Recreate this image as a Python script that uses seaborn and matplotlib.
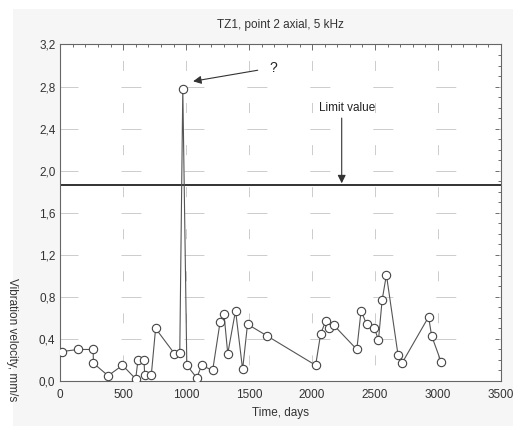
import numpy as np
import pandas as pd
import matplotlib
matplotlib.use("Agg")
import matplotlib.pyplot as plt
import seaborn as sns
from matplotlib.patches import Rectangle
from matplotlib.ticker import MultipleLocator, FuncFormatter

# measured points (days, mm/s)
days = [11, 142, 261, 263, 380, 494, 599, 617, 665, 670, 723, 757, 907, 949,
        973, 1005, 1084, 1123, 1210, 1269, 1300, 1330, 1392, 1448, 1487,
        1641, 2028, 2068, 2108, 2134, 2173, 2355, 2389, 2432, 2495, 2527,
        2556, 2590, 2682, 2714, 2925, 2949, 3025]
velocity = [0.28, 0.30, 0.30, 0.17, 0.05, 0.15, 0.02, 0.20, 0.20, 0.06, 0.06, 0.50, 0.26, 0.27,
            2.78, 0.15, 0.03, 0.15, 0.10, 0.56, 0.64, 0.26, 0.67, 0.11, 0.54,
            0.43, 0.15, 0.45, 0.57, 0.50, 0.53, 0.30, 0.67, 0.54, 0.50, 0.39,
            0.77, 1.01, 0.25, 0.17, 0.61, 0.43, 0.18]
limit_value = 1.86
x_grid = [500, 1000, 1500, 2000, 2500, 3000]
y_grid = [0.4, 0.8, 1.2, 1.6, 2.0, 2.4, 2.8]

df = pd.DataFrame({"Time": days, "Velocity": velocity})

sns.set_style("ticks")
plt.rcParams["font.family"] = ["Liberation Sans", "DejaVu Sans"]
plt.rcParams["lines.scale_dashes"] = False

fig = plt.figure(figsize=(5.13, 4.26), dpi=100)
fig.patch.set_facecolor("white")
# light grey panel behind the chart
fig.patches.append(Rectangle((13 / 513, 0), 1, 1 - 9 / 426, transform=fig.transFigure,
                             facecolor="#f6f6f6", edgecolor="none", zorder=-10))

ax = fig.add_axes([0.1175, 0.1056, 0.8591, 0.79])
ax.set_facecolor("white")

# broken grid like the original software: short dashes
grid_col = "#cccccc"
ax.hlines(y_grid, 0, 3500, colors=grid_col, linewidth=0.7,
          linestyles=[(1.44, (14.4, 30.93))], zorder=1)
ax.vlines(x_grid, 0, 3.2, colors=grid_col, linewidth=0.7,
          linestyles=[(18.72, (7.2, 23.09))], zorder=1)

sns.lineplot(data=df, x="Time", y="Velocity", sort=False, ax=ax, color="#555555",
             linewidth=0.8, marker="o", markersize=6, markerfacecolor="white",
             markeredgecolor="#444444", markeredgewidth=0.8, zorder=3)

ax.axhline(limit_value, color="#222222", linewidth=1.3, zorder=2)

ax.set_xlim(0, 3500)
ax.set_ylim(0, 3.2)
ax.xaxis.set_major_locator(MultipleLocator(500))
ax.xaxis.set_minor_locator(MultipleLocator(100))
ax.yaxis.set_major_locator(MultipleLocator(0.4))
ax.yaxis.set_minor_locator(MultipleLocator(0.1))
ax.yaxis.set_major_formatter(FuncFormatter(lambda v, p: f"{v:.1f}".replace(".", ",")))
ax.tick_params(axis="both", which="both", direction="in", labelsize=8.5,
               colors="#555555", labelcolor="#333333", top=True, right=True,
               left=False, bottom=False)
ax.tick_params(which="major", length=4, width=0.6)
ax.tick_params(which="minor", length=2.5, width=0.6)
ax.tick_params(axis="x", pad=6)
ax.grid(False)
for s in ax.spines.values():
    s.set_color("#666666")
    s.set_linewidth(0.8)

ax.set_title("TZ1, point 2 axial, 5 kHz", fontsize=8.5, color="#333333", pad=12)
ax.set_xlabel("Time, days", fontsize=8.5, color="#333333", labelpad=4)
ax.set_ylabel("")
fig.text(12 / 513, 1 - 340 / 426, "Vibration velocity, mm/s", rotation=270,
         fontsize=8.5, color="#333333", ha="center", va="center")

ax.annotate("?", xy=(1055, 2.85), xytext=(1690, 2.98), fontsize=10, color="#222222",
            ha="center", va="center",
            arrowprops=dict(arrowstyle="-|>", color="#333333", lw=0.8,
                            shrinkA=6, shrinkB=0, mutation_scale=12))
ax.text(2280, 2.60, "Limit value", fontsize=8.5, color="#222222", ha="center", va="center")
ax.annotate("", xy=(2235, 1.88), xytext=(2235, 2.50),
            arrowprops=dict(arrowstyle="-|>", color="#333333", lw=0.8,
                            shrinkA=0, shrinkB=0, mutation_scale=12))

fig.savefig("out.png", dpi=100)
